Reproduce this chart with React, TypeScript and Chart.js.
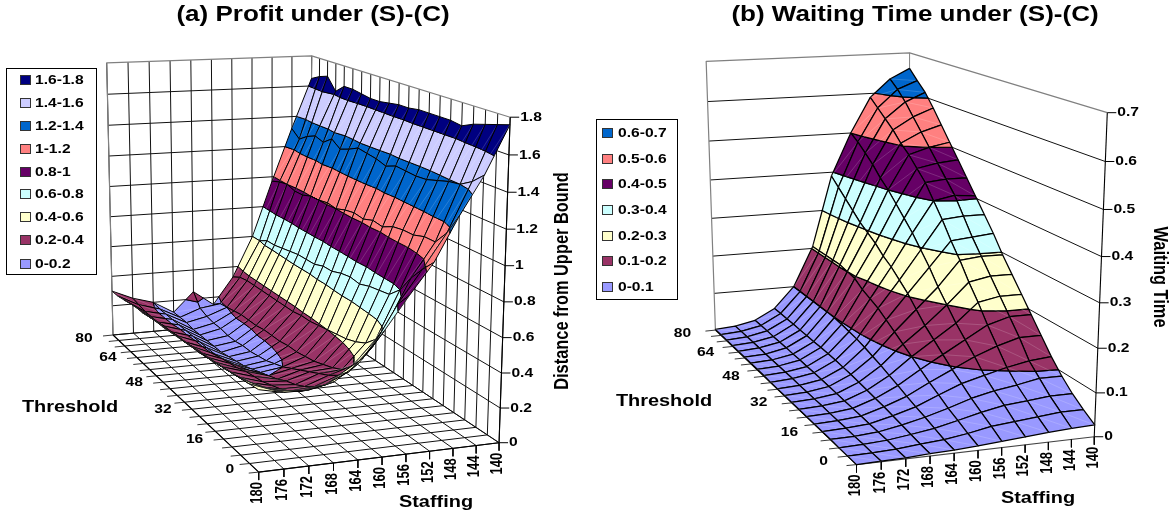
import React, { useEffect, useRef } from "react";
import { Chart, registerables } from "chart.js";

Chart.register(...registerables);

// ---------- shared axes ----------
const staffing = [140, 144, 148, 152, 156, 160, 164, 168, 172, 176, 180];
const thresholds = [80, 76, 72, 68, 64, 60, 56, 52, 48, 44, 40, 36, 32, 28, 24, 20, 16, 12, 8, 4, 0];
const thresholdLabels = [80, 64, 48, 32, 16, 0];

// ---------- (a) profit: one list per staffing level, threshold 80 -> 0 ----------
const profit140 = [1.65, 1.68, 1.7, 1.62, 1.67, 1.67, 1.66, 1.65, 1.65, 1.66, 1.67, 1.67, 1.68, 1.68, 1.68, 1.68, 1.67, 1.7, 1.72, 1.74, 1.76];
const profit144 = [1.32, 1.27, 1.31, 1.335, 1.316, 1.36, 1.317, 1.34, 1.37, 1.36, 1.35, 1.33, 1.355, 1.35, 1.345, 1.35, 1.37, 1.39, 1.4, 1.44, 1.5];
const profit148 = [0.97, 0.99, 1.0, 0.98, 0.98, 1.0, 1.0, 1.01, 1.0, 1.02, 1.03, 1.02, 1.04, 1.03, 1.06, 1.07, 1.07, 1.09, 1.09, 1.17, 1.29];
const profit152 = [0.6, 0.6, 0.63, 0.63, 0.64, 0.65, 0.66, 0.66, 0.66, 0.68, 0.68, 0.7, 0.71, 0.7, 0.72, 0.73, 0.74, 0.8, 0.9, 0.98, 1.05];
const profit156 = [0.33, 0.36, 0.37, 0.37, 0.37, 0.37, 0.37, 0.37, 0.37, 0.38, 0.38, 0.39, 0.4, 0.41, 0.42, 0.44, 0.47, 0.53, 0.65, 0.8, 0.88];
const profit160 = [0.15, 0.19, 0.2, 0.21, 0.22, 0.22, 0.22, 0.23, 0.23, 0.23, 0.24, 0.24, 0.25, 0.26, 0.28, 0.3, 0.33, 0.39, 0.47, 0.58, 0.7];
const profit164 = [0.25, 0.17, 0.15, 0.14, 0.14, 0.13, 0.13, 0.14, 0.14, 0.15, 0.16, 0.18, 0.2, 0.23, 0.26, 0.29, 0.32, 0.35, 0.39, 0.45, 0.54];
const profit168 = [0.12, 0.12, 0.12, 0.11, 0.11, 0.11, 0.11, 0.11, 0.12, 0.13, 0.14, 0.16, 0.18, 0.2, 0.22, 0.25, 0.27, 0.3, 0.34, 0.39, 0.45];
const profit172 = [0.2, 0.19, 0.19, 0.19, 0.19, 0.19, 0.19, 0.19, 0.19, 0.19, 0.2, 0.21, 0.22, 0.24, 0.25, 0.26, 0.28, 0.3, 0.33, 0.37, 0.42];
const profit176 = [0.24, 0.23, 0.22, 0.22, 0.22, 0.23, 0.23, 0.24, 0.24, 0.25, 0.25, 0.26, 0.27, 0.28, 0.29, 0.3, 0.31, 0.33, 0.36, 0.39, 0.42];
const profit180 = [0.3, 0.3, 0.31, 0.32, 0.33, 0.33, 0.34, 0.35, 0.35, 0.36, 0.37, 0.37, 0.38, 0.39, 0.39, 0.4, 0.41, 0.42, 0.43, 0.44, 0.45];
const profitRows = [profit140, profit144, profit148, profit152, profit156, profit160, profit164, profit168, profit172, profit176, profit180];
const profitTicks = [0, 0.2, 0.4, 0.6, 0.8, 1, 1.2, 1.4, 1.6, 1.8];
const profitBands = ["0-0.2", "0.2-0.4", "0.4-0.6", "0.6-0.8", "0.8-1", "1-1.2", "1.2-1.4", "1.4-1.6", "1.6-1.8"];

// ---------- (b) waiting time ----------
const wait140 = [0.66, 0.635, 0.612, 0.58, 0.545, 0.51, 0.475, 0.44, 0.405, 0.37, 0.335, 0.295, 0.26, 0.225, 0.19, 0.155, 0.12, 0.09, 0.065, 0.045, 0.027];
const wait144 = [0.635, 0.615, 0.59, 0.56, 0.53, 0.5, 0.47, 0.44, 0.41, 0.37, 0.33, 0.295, 0.26, 0.225, 0.19, 0.155, 0.115, 0.09, 0.065, 0.045, 0.025];
const wait148 = [0.59, 0.57, 0.55, 0.53, 0.505, 0.485, 0.46, 0.435, 0.4, 0.365, 0.325, 0.29, 0.25, 0.215, 0.175, 0.14, 0.105, 0.08, 0.06, 0.04, 0.022];
const wait152 = [0.5, 0.485, 0.465, 0.445, 0.42, 0.4, 0.375, 0.35, 0.325, 0.295, 0.265, 0.23, 0.2, 0.17, 0.145, 0.12, 0.092, 0.072, 0.055, 0.035, 0.018];
const wait156 = [0.39, 0.37, 0.35, 0.33, 0.31, 0.295, 0.28, 0.26, 0.245, 0.225, 0.205, 0.18, 0.155, 0.135, 0.115, 0.095, 0.078, 0.06, 0.045, 0.03, 0.014];
const wait160 = [0.205, 0.205, 0.205, 0.205, 0.205, 0.2, 0.195, 0.18, 0.17, 0.16, 0.145, 0.13, 0.115, 0.1, 0.085, 0.07, 0.057, 0.043, 0.032, 0.02, 0.01];
const wait164 = [0.1, 0.1, 0.1, 0.1, 0.1, 0.1, 0.099, 0.096, 0.092, 0.088, 0.082, 0.075, 0.068, 0.06, 0.052, 0.043, 0.035, 0.028, 0.02, 0.012, 0.007];
const wait168 = [0.045, 0.045, 0.044, 0.044, 0.043, 0.043, 0.042, 0.042, 0.041, 0.04, 0.038, 0.036, 0.033, 0.03, 0.027, 0.024, 0.02, 0.016, 0.012, 0.008, 0.005];
const wait172 = [0.017, 0.017, 0.017, 0.016, 0.016, 0.016, 0.015, 0.015, 0.014, 0.014, 0.013, 0.012, 0.011, 0.01, 0.009, 0.008, 0.007, 0.006, 0.005, 0.003, 0.002];
const wait176 = [0.006, 0.006, 0.006, 0.006, 0.006, 0.005, 0.005, 0.005, 0.005, 0.005, 0.004, 0.004, 0.004, 0.004, 0.003, 0.003, 0.003, 0.002, 0.002, 0.001, 0.001];
const wait180 = [0.002, 0.002, 0.002, 0.002, 0.002, 0.002, 0.002, 0.002, 0.002, 0.001, 0.001, 0.001, 0.001, 0.001, 0.001, 0.001, 0.001, 0.001, 0, 0, 0];
const waitRows = [wait140, wait144, wait148, wait152, wait156, wait160, wait164, wait168, wait172, wait176, wait180];
const waitTicks = [0, 0.1, 0.2, 0.3, 0.4, 0.5, 0.6, 0.7];
const waitBands = ["0-0.1", "0.1-0.2", "0.2-0.3", "0.3-0.4", "0.4-0.5", "0.5-0.6", "0.6-0.7"];

// ---------- colours ----------
const paletteA = ["#9999FF", "#993366", "#FFFFCC", "#CCFFFF", "#660066", "#FF8080", "#0066CC", "#CCCCFF", "#000080"];
const paletteB = ["#9999FF", "#993366", "#FFFFCC", "#CCFFFF", "#660066", "#FF8080", "#0066CC"];

const FONT = '"Liberation Sans", Arial, sans-serif';
const HS = 1.2; // the source picture's type is stretched sideways

type V3 = [number, number, number];
type Anchor = [number, number, number, number, number];

function solve(A: number[][], b: number[]) {
  const n = b.length;
  const M = A.map((r, i) => [...r, b[i]]);
  for (let c = 0; c < n; c++) {
    let p = c;
    for (let r = c + 1; r < n; r++) if (Math.abs(M[r][c]) > Math.abs(M[p][c])) p = r;
    [M[c], M[p]] = [M[p], M[c]];
    for (let r = 0; r < n; r++) {
      if (r === c) continue;
      const f = M[r][c] / M[c][c];
      for (let k = c; k <= n; k++) M[r][k] -= f * M[c][k];
    }
  }
  return M.map((r, i) => r[n] / r[i]);
}

// Fit the chart's 3-D camera to the box corners seen in the picture.
function makeCamera(anchors: Anchor[], zMax: number) {
  const norm = (s: number, t: number, z: number): V3 => [(180 - s) / 40, (80 - t) / 80, z / zMax];
  const rows: number[][] = [];
  const rhs: number[] = [];
  for (const [s, t, z, px, py] of anchors) {
    const [X, Y, Z] = norm(s, t, z);
    const x = px / 1000;
    const y = py / 1000;
    rows.push([X, Y, Z, 1, 0, 0, 0, 0, -x * X, -x * Y, -x * Z]);
    rhs.push(x);
    rows.push([0, 0, 0, 0, X, Y, Z, 1, -y * X, -y * Y, -y * Z]);
    rhs.push(y);
  }
  const N = rows[0].length;
  const AtA = Array.from({ length: N }, (_, i) =>
    Array.from({ length: N }, (_, j) => rows.reduce((a, r) => a + r[i] * r[j], 0))
  );
  const Atb = Array.from({ length: N }, (_, i) => rows.reduce((a, r, k) => a + r[i] * rhs[k], 0));
  const p = solve(AtA, Atb);
  return (s: number, t: number, z: number) => {
    const [X, Y, Z] = norm(s, t, z);
    const w = p[8] * X + p[9] * Y + p[10] * Z + 1;
    return {
      x: (1000 * (p[0] * X + p[1] * Y + p[2] * Z + p[3])) / w,
      y: (1000 * (p[4] * X + p[5] * Y + p[6] * Z + p[7])) / w,
    };
  };
}

function clip(poly: V3[], z: number, keepAbove: boolean) {
  const out: V3[] = [];
  const inside = (v: V3) => (keepAbove ? v[2] >= z : v[2] <= z);
  for (let i = 0; i < poly.length; i++) {
    const a = poly[i];
    const b = poly[(i + 1) % poly.length];
    if (inside(a)) out.push(a);
    if (inside(a) !== inside(b)) {
      const u = (z - a[2]) / (b[2] - a[2]);
      out.push([a[0] + u * (b[0] - a[0]), a[1] + u * (b[1] - a[1]), z]);
    }
  }
  return out;
}

type TextItem = { t: string; x: number; y: number; size: number; align?: CanvasTextAlign; rot?: number; hs?: number };

type PanelCfg = {
  xMin: number;
  xMax: number;
  zMax: number;
  anchors: Anchor[];
  rows: number[][];
  ticks: number[];
  bands: string[];
  palette: string[];
  bandStep: number;
  title: string;
  titleX: number;
  zTitle: string;
  zTitleX: number;
  zTitleY: number;
  zTitleRot: number;
  thresholdTitle: [number, number];
  staffingTitle: [number, number];
  legendBox: [number, number, number, number];
  legendY: number[];
  legendSwatchX: number;
  legendTextX: number;
  wallVerticals: boolean;
  floorGrid: boolean;
  lineWidth: number;
  thLabelDx: number;
};

const panelA: PanelCfg = {
  xMin: 0,
  xMax: 585,
  zMax: 1.8,
  anchors: [
    [180, 0, 0, 259, 472],
    [140, 0, 0, 499, 443],
    [180, 80, 0, 113, 335],
    [140, 80, 0, 310, 317],
    [180, 80, 1.8, 106.5, 63],
    [140, 80, 1.8, 312, 56],
    [140, 0, 1.8, 510, 117],
  ],
  rows: profitRows,
  ticks: profitTicks,
  bands: profitBands,
  palette: paletteA,
  bandStep: 0.2,
  title: "(a) Profit under (S)-(C)",
  titleX: 313,
  zTitle: "Distance from Upper Bound",
  zTitleX: 563,
  zTitleY: 281,
  zTitleRot: -Math.PI / 2,
  thresholdTitle: [70, 407],
  staffingTitle: [436, 502],
  legendBox: [6, 68, 90, 206],
  legendY: [264, 240, 217, 194, 172, 149, 126, 103, 80],
  legendSwatchX: 20,
  legendTextX: 35,
  wallVerticals: true,
  floorGrid: true,
  lineWidth: 1,
  thLabelDx: -29,
};

const panelB: PanelCfg = {
  xMin: 585,
  xMax: 1170,
  zMax: 0.7,
  anchors: [
    [180, 0, 0, 856, 464],
    [140, 0, 0, 1095, 437],
    [180, 80, 0, 716, 331],
    [140, 80, 0, 908, 312],
    [180, 80, 0.7, 706, 61],
    [140, 80, 0.7, 910, 53],
    [140, 0, 0.7, 1107, 113],
  ],
  rows: waitRows,
  ticks: waitTicks,
  bands: waitBands,
  palette: paletteB,
  bandStep: 0.1,
  title: "(b) Waiting Time under (S)-(C)",
  titleX: 915,
  zTitle: "Waiting Time",
  zTitleX: 1159,
  zTitleY: 277,
  zTitleRot: Math.PI / 2,
  thresholdTitle: [664, 401],
  staffingTitle: [1038, 498],
  legendBox: [596, 119, 81, 180],
  legendY: [287, 261, 236, 210, 184, 159, 133],
  legendSwatchX: 602,
  legendTextX: 618,
  wallVerticals: false,
  floorGrid: false,
  lineWidth: 1.25,
  thLabelDx: -33,
};

function buildDatasets(cfg: PanelCfg) {
  const P = makeCamera(cfg.anchors, cfg.zMax);
  const paint: any[] = [];
  const line = (pts: { x: number; y: number }[], color: string, width: number, fillColor?: string) =>
    paint.push({
      data: pts,
      showLine: true,
      borderColor: color,
      borderWidth: width,
      pointRadius: 0,
      pointHoverRadius: 0,
      tension: 0,
      clip: false,
      polyFill: fillColor,
      borderJoinStyle: "round",
    });

  const GRID = "#111111";
  const EDGE = "#808080";
  const top = cfg.zMax;
  // walls: levels
  for (const z of cfg.ticks) {
    if (z === top) continue;
    if (z === 0 && !cfg.floorGrid) continue;
    line([P(180, 80, z), P(140, 80, z), P(140, 0, z)], GRID, 1);
  }
  if (cfg.wallVerticals) {
    for (const s of staffing) line([P(s, 80, 0), P(s, 80, top)], GRID, 1);
    for (const t of thresholds) line([P(140, t, 0), P(140, t, top)], GRID, 1);
  }
  line([P(180, 80, 0), P(180, 80, top), P(140, 80, top), P(140, 0, top)], EDGE, 1.2);
  line([P(140, 80, 0), P(140, 80, top)], EDGE, 1);
  line([P(140, 0, 0), P(140, 0, top)], "#000000", 1.1);

  // floor
  if (cfg.floorGrid) {
    for (const t of thresholds) line([P(180, t, 0), P(140, t, 0)], GRID, 1);
    for (const s of staffing) line([P(s, 80, 0), P(s, 0, 0)], GRID, 1);
  }
  line([P(180, 80, 0), P(180, 0, 0)], "#000000", 1.1);
  line([P(180, 0, 0), P(140, 0, 0)], cfg.floorGrid ? "#000000" : "#444444", 1.1);

  // ticks
  for (const z of cfg.ticks) {
    const a = P(140, 0, z);
    line([a, { x: a.x + 9, y: a.y }], "#000000", 1);
  }
  for (const s of staffing) {
    const a = P(s, 0, 0);
    line([a, { x: a.x, y: a.y + 8 }], "#000000", 1);
  }
  for (const t of thresholds) {
    const a = P(180, t, 0);
    line([a, { x: a.x - 10, y: a.y + 1 }], "#222222", 0.9);
  }

  // surface, back to front; every cell is cut at the colour levels
  for (let i = 0; i < staffing.length - 1; i++) {
    for (let j = 0; j < thresholds.length - 1; j++) {
      const r = cfg.rows;
      const cell: V3[] = [
        [staffing[i], thresholds[j], r[i][j]],
        [staffing[i + 1], thresholds[j], r[i + 1][j]],
        [staffing[i + 1], thresholds[j + 1], r[i + 1][j + 1]],
        [staffing[i], thresholds[j + 1], r[i][j + 1]],
      ];
      cfg.palette.forEach((color, b) => {
        let part = clip(cell, b * cfg.bandStep, true);
        if (part.length) part = clip(part, (b + 1) * cfg.bandStep, false);
        if (part.length < 3) return;
        const pts = part.map((v) => P(v[0], v[1], v[2]));
        pts.push(pts[0]);
        line(pts, "#000000", cfg.lineWidth, color);
      });
      // the faint pale diagonal each facet shows in the source
      line(
        [P(cell[1][0], cell[1][1], cell[1][2]), P(cell[3][0], cell[3][1], cell[3][2])],
        "rgba(255,255,255,0.28)",
        0.6
      );
    }
  }

  const texts: TextItem[] = [];
  const tickFont = 13;
  for (const z of cfg.ticks) {
    const a = P(140, 0, z);
    texts.push({ t: String(z), x: a.x + 10, y: a.y, size: tickFont, align: "left" });
  }
  for (const s of staffing) {
    const a = P(s, 0, 0);
    texts.push({ t: String(s), x: a.x - 1, y: a.y + 10, size: tickFont, align: "right", rot: -Math.PI / 2 });
  }
  for (const t of thresholdLabels) {
    const a = P(180, t, 0);
    texts.push({ t: String(t), x: a.x + cfg.thLabelDx, y: a.y + (t === 80 ? 3 : t === 0 ? -3 : 0), size: tickFont, align: "center" });
  }
  return { datasets: paint.reverse(), texts };
}

// Fill each closed dataset from the points the chart's scales placed.
const polygonPlugin = {
  id: "polygonFill",
  beforeDatasetDraw(chart: any, args: any) {
    const ds = chart.data.datasets[args.index];
    if (!ds.polyFill) return;
    const pts = args.meta.data;
    const ctx = chart.ctx;
    ctx.save();
    ctx.beginPath();
    pts.forEach((p: any, i: number) => (i ? ctx.lineTo(p.x, p.y) : ctx.moveTo(p.x, p.y)));
    ctx.closePath();
    ctx.fillStyle = ds.polyFill;
    ctx.fill();
    ctx.restore();
  },
};

function textPlugin(cfg: PanelCfg, texts: TextItem[]) {
  return {
    id: "panelText",
    afterDraw(chart: any) {
      const ctx = chart.ctx as CanvasRenderingContext2D;
      const X = (v: number) => chart.scales.x.getPixelForValue(v);
      const Y = (v: number) => chart.scales.y.getPixelForValue(v);
      const put = (it: TextItem) => {
        ctx.save();
        ctx.translate(X(it.x), Y(it.y));
        ctx.scale(it.hs ?? HS, 1);
        if (it.rot) ctx.rotate(it.rot);
        ctx.font = `bold ${it.size}px ${FONT}`;
        ctx.fillStyle = "#000000";
        ctx.textAlign = it.align ?? "center";
        ctx.textBaseline = "middle";
        ctx.fillText(it.t, 0, 0);
        ctx.restore();
      };
      texts.forEach(put);
      put({ t: cfg.title, x: cfg.titleX, y: 15, size: 21.7 });
      put({ t: "Threshold", x: cfg.thresholdTitle[0], y: cfg.thresholdTitle[1], size: 16.6 });
      put({ t: "Staffing", x: cfg.staffingTitle[0], y: cfg.staffingTitle[1], size: 16.6 });
      put({ t: cfg.zTitle, x: cfg.zTitleX, y: cfg.zTitleY, size: 16.4, rot: cfg.zTitleRot });

      const [bx, by, bw, bh] = cfg.legendBox;
      ctx.save();
      ctx.strokeStyle = "#000000";
      ctx.lineWidth = 1;
      ctx.fillStyle = "#ffffff";
      ctx.fillRect(X(bx), Y(by), bw, bh);
      ctx.strokeRect(X(bx) + 0.5, Y(by) + 0.5, bw, bh);
      cfg.bands.forEach((name, i) => {
        const y = cfg.legendY[i];
        ctx.fillStyle = cfg.palette[i];
        ctx.fillRect(X(cfg.legendSwatchX), Y(y) - 5, 11, 10);
        ctx.strokeStyle = "#333333";
        ctx.strokeRect(X(cfg.legendSwatchX) + 0.5, Y(y) - 4.5, 10, 9);
      });
      ctx.restore();
      cfg.bands.forEach((name, i) =>
        put({ t: name, x: cfg.legendTextX, y: cfg.legendY[i], size: 13, align: "left" })
      );
    },
  };
}

function Panel({ cfg }: { cfg: PanelCfg }) {
  const ref = useRef<HTMLCanvasElement>(null);
  useEffect(() => {
    const { datasets, texts } = buildDatasets(cfg);
    const chart = new Chart(ref.current as HTMLCanvasElement, {
      type: "scatter",
      data: { datasets },
      plugins: [polygonPlugin, textPlugin(cfg, texts)],
      options: {
        responsive: false,
        animation: false,
        devicePixelRatio: 1,
        events: [],
        layout: { padding: 0 },
        plugins: { legend: { display: false }, tooltip: { enabled: false }, title: { display: false } },
        scales: {
          x: { type: "linear", display: false, min: cfg.xMin, max: cfg.xMax },
          y: { type: "linear", display: false, min: 0, max: 512, reverse: true },
        },
      },
    } as any);
    return () => chart.destroy();
  }, [cfg]);
  return (
    <canvas
      ref={ref}
      width={cfg.xMax - cfg.xMin}
      height={512}
      style={{ position: "absolute", left: cfg.xMin, top: 0, width: cfg.xMax - cfg.xMin, height: 512 }}
    />
  );
}

export default function App() {
  return (
    <div style={{ position: "fixed", left: 0, top: 0, width: 1170, height: 512, background: "#ffffff", overflow: "hidden" }}>
      <Panel cfg={panelA} />
      <Panel cfg={panelB} />
    </div>
  );
}
